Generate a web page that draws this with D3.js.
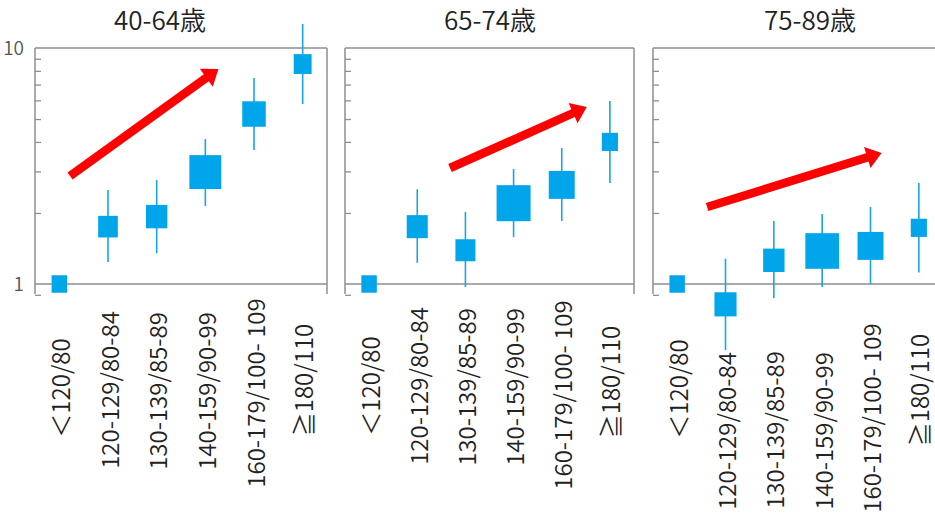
<!DOCTYPE html>
<html>
<head>
<meta charset="utf-8">
<script src="https://cdn.jsdelivr.net/npm/d3@7"></script>
<style>
  html, body { margin: 0; padding: 0; background: #fff; }
  svg { display: block; }
  text { font-family: "Noto Sans CJK JP", "Noto Sans", sans-serif; font-weight: 350; }
</style>
</head>
<body>
<svg id="chart" width="935" height="517"></svg>
<script>
// ---- data ----
const categories = ["＜120/80", "120-129/80-84", "130-139/85-89", "140-159/90-99", "160-179/100- 109", "≧180/110"];
const ageGroups = ["40-64歳", "65-74歳", "75-89歳"];

const hr_40_64 = [1.00, 1.75, 1.93, 2.98, 5.25, 8.55];
const lo_40_64 = [null, 1.24, 1.35, 2.14, 3.70, 5.79];
const hi_40_64 = [null, 2.50, 2.76, 4.12, 7.46, 12.64];
const weight_40_64 = [0.47, 0.59, 0.64, 0.94, 0.70, 0.54];

const hr_65_74 = [1.00, 1.75, 1.39, 2.20, 2.63, 4.00];
const lo_65_74 = [null, 1.23, 0.97, 1.58, 1.85, 2.68];
const hi_65_74 = [null, 2.52, 2.02, 3.07, 3.77, 5.96];
const weight_65_74 = [0.47, 0.63, 0.60, 1.00, 0.77, 0.49];

const hr_75_89 = [1.00, 0.82, 1.26, 1.38, 1.45, 1.73];
const lo_75_89 = [null, 0.525, 0.87, 0.97, 1.00, 1.12];
const hi_75_89 = [null, 1.28, 1.85, 1.98, 2.12, 2.68];
const weight_75_89 = [0.47, 0.66, 0.64, 0.99, 0.77, 0.49];

const yTickLabels = [1, 10];
const yMinorTicks = [0.9, 2, 3, 4, 5, 6, 7, 8, 9];

// trend arrows (category-index units, hazard-ratio units)
const arrowFromIdx = [0.22, 1.68, 0.62];
const arrowFromVal = [2.87, 3.10, 2.12];
const arrowToIdx   = [3.27, 4.52, 4.23];
const arrowToVal   = [8.15, 5.62, 3.59];

// ---- layout ----
const layout = {
  top: 48, base: 284, frameBottom: 294,
  panels: [
    { x0: 35,  x1: 327, titleX: 160, labelY: [388, 390, 391, 391, 393, 380] },
    { x0: 345, x1: 634, titleX: 490, labelY: [386, 386, 387, 387, 395, 382] },
    { x0: 653, x1: 943, titleX: 810, labelY: [389, 431, 430, 431, 418, 390] }
  ]
};
const series = [
  { hr: hr_40_64, lo: lo_40_64, hi: hi_40_64, w: weight_40_64 },
  { hr: hr_65_74, lo: lo_65_74, hi: hi_65_74, w: weight_65_74 },
  { hr: hr_75_89, lo: lo_75_89, hi: hi_75_89, w: weight_75_89 }
];

const BOX = "#00a6e9", WHISK = "#1aa3e6", FRAME = "#8e8e8e", RED = "#ff0000";

const svg = d3.select("#chart");
const y = d3.scaleLog().domain([1, 10]).range([layout.base, layout.top]);
const sizeScale = d3.scaleLinear().domain([0, 1]).range([0, 35]);

layout.panels.forEach((p, pi) => {
  const g = svg.append("g");
  const s = series[pi];
  const xIdx = d3.scaleLinear().domain([-0.5, categories.length - 0.5]).range([p.x0, p.x1]);
  const xBand = d3.scaleBand().domain(categories).range([p.x0, p.x1]);

  // frame: top, left, right, reference line at 1
  g.append("line").attr("x1", p.x0).attr("x2", p.x1).attr("y1", y(10)).attr("y2", y(10))
    .attr("stroke", FRAME).attr("stroke-width", 1.5);
  [p.x0, p.x1].forEach(xx => {
    g.append("line").attr("x1", xx).attr("x2", xx).attr("y1", y(10)).attr("y2", layout.frameBottom)
      .attr("stroke", FRAME).attr("stroke-width", 1.5);
  });
  g.append("line").attr("x1", p.x0).attr("x2", p.x1).attr("y1", y(1)).attr("y2", y(1))
    .attr("stroke", FRAME).attr("stroke-width", 1.5);

  // minor ticks inside
  const ax = g.append("g").attr("transform", `translate(${p.x0},0)`)
    .call(d3.axisRight(y).tickValues(yMinorTicks).tickSize(6).tickFormat(""));
  ax.select(".domain").remove();
  ax.selectAll(".tick line").attr("stroke", FRAME).attr("stroke-width", 1.3);

  // tick labels only on first panel
  if (pi === 0) {
    const al = g.append("g").attr("transform", `translate(${p.x0 - 8},0)`)
      .call(d3.axisLeft(y).tickValues(yTickLabels).tickSize(0).tickFormat(d3.format("d")));
    al.select(".domain").remove();
    al.selectAll(".tick text").attr("font-size", 19).attr("fill", "#555")
      .attr("font-family", "Noto Sans CJK JP").attr("font-weight", 300).attr("dx", 0);
  }

  // title
  g.append("text").attr("x", p.titleX).attr("y", 30).attr("text-anchor", "middle")
    .attr("font-size", 26).attr("font-weight", 400).attr("fill", "#222").text(ageGroups[pi]);

  // whiskers
  categories.forEach((c, i) => {
    if (s.lo[i] == null) return;
    g.append("line")
      .attr("x1", xBand(c) + xBand.bandwidth() / 2).attr("x2", xBand(c) + xBand.bandwidth() / 2)
      .attr("y1", y(s.hi[i])).attr("y2", y(s.lo[i]))
      .attr("stroke", WHISK).attr("stroke-width", 1.6);
  });
  // boxes
  categories.forEach((c, i) => {
    const sz = sizeScale(s.w[i]);
    const cx = xBand(c) + xBand.bandwidth() / 2;
    g.append("rect")
      .attr("x", cx - (sz - 1) / 2).attr("y", y(s.hr[i]) - (sz + 1) / 2)
      .attr("width", sz - 1).attr("height", sz + 1)
      .attr("fill", BOX);
  });

  // category labels (rotated)
  categories.forEach((c, i) => {
    const cx = xBand(c) + xBand.bandwidth() / 2;
    g.append("text")
      .attr("transform", `translate(${cx},${p.labelY[i]}) rotate(-90)`)
      .attr("text-anchor", "middle").attr("dominant-baseline", "central")
      .attr("font-size", 24).attr("fill", "#222").text(c);
  });

  // trend arrow
  const x0 = xIdx(arrowFromIdx[pi]), y0 = y(arrowFromVal[pi]);
  const x1 = xIdx(arrowToIdx[pi]), y1 = y(arrowToVal[pi]);
  const dx = x1 - x0, dy = y1 - y0, L = Math.hypot(dx, dy);
  const ux = dx / L, uy = dy / L, nx = -uy, ny = ux;
  const shaft = 4.3, head = 11, headLen = 15;
  const bx = x1 - ux * headLen, by = y1 - uy * headLen;
  const pts = [
    [x0 + nx * shaft, y0 + ny * shaft],
    [bx + nx * shaft, by + ny * shaft],
    [bx + nx * head, by + ny * head],
    [x1, y1],
    [bx - nx * head, by - ny * head],
    [bx - nx * shaft, by - ny * shaft],
    [x0 - nx * shaft, y0 - ny * shaft]
  ];
  g.append("path").attr("d", d3.line()(pts) + "Z").attr("fill", RED);
});
</script>
</body>
</html>
